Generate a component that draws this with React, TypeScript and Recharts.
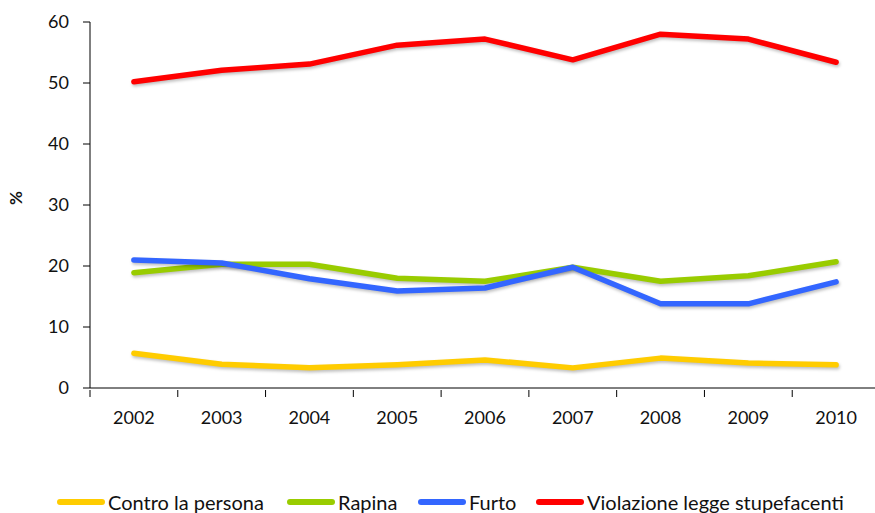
import { LineChart, Line, XAxis, YAxis } from "recharts";

const years = ["2002", "2003", "2004", "2005", "2006", "2007", "2008", "2009", "2010"];
const controLaPersona = [5.7, 3.9, 3.3, 3.8, 4.6, 3.3, 4.9, 4.1, 3.8];
const rapina = [18.9, 20.3, 20.3, 18.0, 17.5, 19.8, 17.5, 18.4, 20.7];
const furto = [21.0, 20.5, 17.9, 15.9, 16.4, 19.8, 13.8, 13.8, 17.4];
const stupefacenti = [50.2, 52.1, 53.1, 56.2, 57.2, 53.8, 58.0, 57.2, 53.4];
const yTicks = [0, 10, 20, 30, 40, 50, 60];

const series = [
  { key: "contro", name: "Contro la persona", color: "#FFCC00", x: 57 },
  { key: "rapina", name: "Rapina", color: "#99CC00", x: 287 },
  { key: "furto", name: "Furto", color: "#3366FF", x: 418 },
  { key: "stup", name: "Violazione legge stupefacenti", color: "#FF0000", x: 536 },
];

const data = years.map((y, i) => ({
  year: y,
  contro: controLaPersona[i],
  rapina: rapina[i],
  furto: furto[i],
  stup: stupefacenti[i],
}));

const font = "Lato, 'Open Sans', sans-serif";
const chartW = 880;
const plotLeft = 90;
const band = (chartW - plotLeft) / years.length;

function YearTick(props: any) {
  const { x, y, payload, index } = props;
  const last = index === years.length - 1;
  return (
    <g>
      <line x1={x - band / 2} x2={x - band / 2} y1={y} y2={y + 7} stroke="#000" />
      {last && <line x1={x + band / 2} x2={x + band / 2} y1={y} y2={y + 7} stroke="#000" />}
      <text x={x} y={y + 34} textAnchor="middle" fill="#111" fontSize={18} fontFamily={font}>
        {payload.value}
      </text>
    </g>
  );
}

export default function App() {
  return (
    <div style={{ position: "absolute", left: 0, top: 0, width: 875, height: 513, overflow: "hidden", fontFamily: font }}>
      <LineChart width={chartW} height={513} data={data} margin={{ top: 22, right: 0, bottom: 85, left: 0 }}>
        <XAxis
          dataKey="year"
          scale="band"
          stroke="#000"
          tickLine={false}
          height={40}
          tickSize={0}
          tick={<YearTick />}
          interval={0}
        />
        <YAxis
          domain={[0, 60]}
          ticks={yTicks}
          width={plotLeft}
          tickSize={7}
          tickMargin={14}
          stroke="#000"
          tick={{ fill: "#111", fontSize: 18, fontFamily: font }}
          label={{ value: "%", angle: -90, position: "insideLeft", offset: 16, fill: "#111", fontSize: 17, fontWeight: "bold", fontFamily: font }}
        />
        {series.map((s) => (
          <Line
            key={s.key}
            dataKey={s.key}
            name={s.name}
            stroke={s.color}
            strokeWidth={5.5}
            strokeLinecap="round"
            strokeLinejoin="round"
            style={{ filter: "drop-shadow(1px 2px 1.5px rgba(0,0,0,0.25))" }}
            dot={false}
            activeDot={false}
            isAnimationActive={false}
          />
        ))}
      </LineChart>
      {series.map((s) => (
        <div
          key={s.key}
          style={{ position: "absolute", top: 490, left: s.x, display: "flex", alignItems: "center", fontSize: 20, color: "#111", whiteSpace: "nowrap", lineHeight: "24px" }}
        >
          <span style={{ display: "inline-block", width: 48, height: 6, borderRadius: 3, background: s.color, marginRight: 3 }} />
          <span>{s.name}</span>
        </div>
      ))}
    </div>
  );
}
